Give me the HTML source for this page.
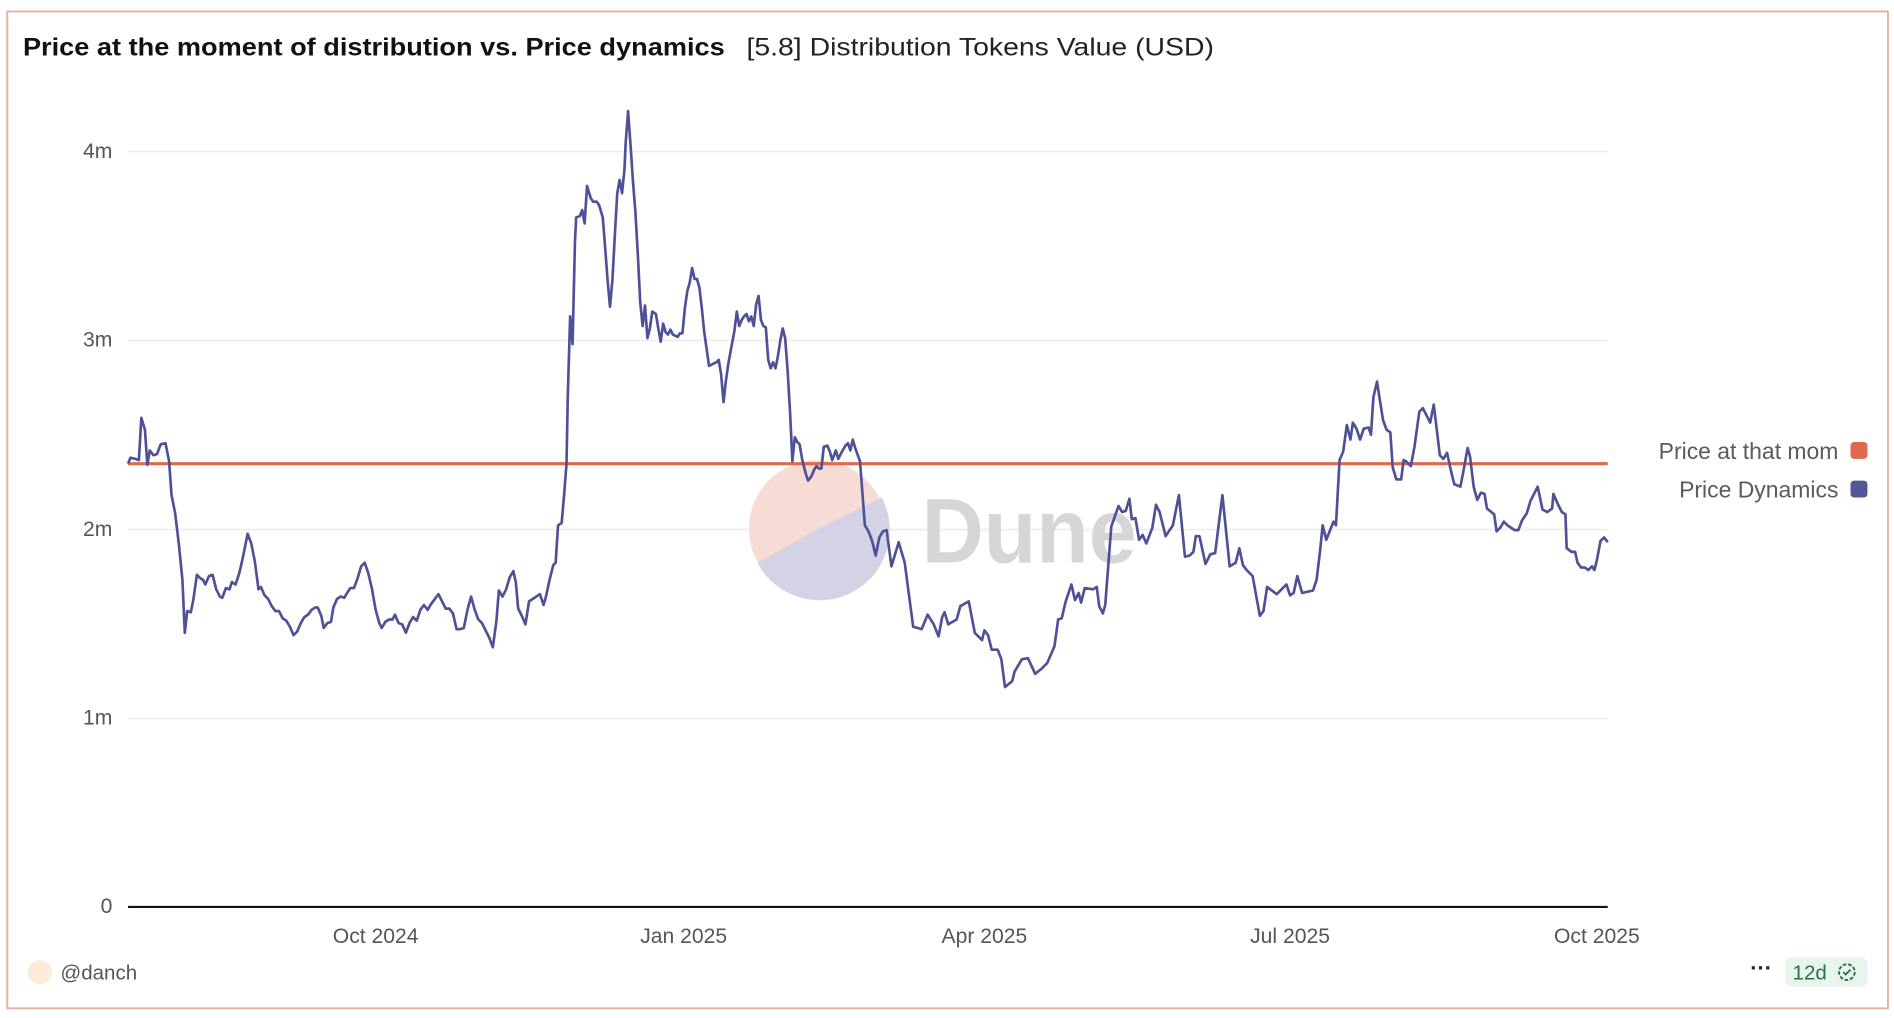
<!DOCTYPE html>
<html><head><meta charset="utf-8"><style>
html,body{margin:0;padding:0;background:#fff;}
svg{display:block;}
text{font-family:"Liberation Sans",sans-serif;}
</style></head><body>
<svg width="1894" height="1018" viewBox="0 0 1568 843" preserveAspectRatio="none" xmlns="http://www.w3.org/2000/svg">
<rect x="0" y="0" width="1568" height="843" fill="#fff"/>
<rect x="6" y="9.5" width="1557" height="825.5" fill="none" stroke="#ebb0a2" stroke-width="1.6"/>
<text x="19" y="46" font-size="20.5" fill="#111" font-weight="bold" textLength="581" lengthAdjust="spacingAndGlyphs">Price at the moment of distribution vs. Price dynamics</text>
<text x="618" y="46" font-size="20.5" fill="#222" textLength="387" lengthAdjust="spacingAndGlyphs">[5.8] Distribution Tokens Value (USD)</text>
<g stroke="#ececec" stroke-width="1.3">
<line x1="106" y1="125.5" x2="1331" y2="125.5"/>
<line x1="106" y1="282" x2="1331" y2="282"/>
<line x1="106" y1="438.5" x2="1331" y2="438.5"/>
<line x1="106" y1="595" x2="1331" y2="595"/>
</g>
<g font-size="17.5" fill="#555" text-anchor="end">
<text x="93" y="131">4m</text><text x="93" y="287">3m</text><text x="93" y="444">2m</text><text x="93" y="600">1m</text><text x="93" y="756">0</text>
</g>
<g font-size="17.5" fill="#555" text-anchor="middle">
<text x="311" y="781">Oct 2024</text><text x="566" y="781">Jan 2025</text><text x="815" y="781">Apr 2025</text><text x="1068" y="781">Jul 2025</text><text x="1322" y="781">Oct 2025</text>
</g>
<circle cx="677" cy="438" r="57" fill="#f6dcd4"/>
<path d="M677 438 L730 412 A57 57 0 0 1 627 466 Z" fill="#d4d3e6"/>
<text x="763" y="466" font-size="76" font-weight="bold" fill="#d6d6d6" textLength="178" lengthAdjust="spacingAndGlyphs">Dune</text>
<line x1="106" y1="384" x2="1331" y2="384" stroke="#e0694b" stroke-width="2.6"/>
<polyline fill="none" stroke="#4f5196" stroke-width="2.2" stroke-linejoin="round" points="106,384 108,379 112,380 115,381 117,346 120,356 122,385 124,373 127,377 130,376 133,368 137,367 140,382 142,410 145,425 148,450 151,480 153,524 155,506 158,507 160,497 163,476 166,479 168,480 170,484 173,477 176,476 179,488 182,494 184,495 187,487 190,488 192,482 195,484 198,475 201,462 205,442 208,450 211,465 214,488 216,486 219,493 222,496 225,502 228,506 231,506 234,512 237,514 240,519 243,526 246,523 249,516 252,511 255,509 258,505 261,503 263,503 266,510 268,520 271,516 274,515 276,503 279,496 282,494 285,495 288,490 290,487 293,487 296,479 299,469 302,466 305,475 308,488 311,505 314,516 316,520 319,515 322,513 325,513 327,509 330,516 333,517 336,524 339,516 342,511 345,514 348,505 351,501 354,505 357,500 360,496 363,492 366,498 369,504 372,504 375,508 378,521 381,521 384,520 387,505 390,494 393,505 396,513 399,516 402,522 405,528 408,536 411,514 413,489 416,494 419,488 422,478 425,473 427,482 429,504 432,510 435,517 438,498 441,496 444,494 447,492 450,501 452,494 455,480 458,468 460,466 462,435 465,433 467,410 469,384 470,330 472,262 474,285 476,200 477,180 480,179 482,174 484,185 486,154 489,164 491,167 494,167 496,170 499,180 501,205 503,232 505,254 507,232 509,195 511,160 513,149 515,160 517,140 518,118 520,92 522,120 524,150 526,175 528,210 530,250 532,270 534,253 536,280 538,272 540,258 543,260 545,272 547,283 549,268 551,275 553,277 555,273 557,277 559,278 561,279 563,276 565,276 567,255 569,241 571,234 573,222 575,231 577,231 579,238 581,255 583,275 585,289 587,303 589,302 591,301 593,300 595,298 597,310 599,333 601,315 603,301 605,290 608,274 610,258 612,270 614,265 616,262 618,260 620,266 622,262 624,270 626,252 628,245 630,265 632,270 634,271 636,298 638,305 640,300 642,305 644,295 646,282 648,272 650,280 652,306 654,340 656,382 658,362 660,366 662,368 664,380 667,392 669,398 672,394 674,389 676,386 678,388 680,388 682,370 685,369 687,374 689,381 692,373 694,380 697,374 700,369 702,367 704,373 706,364 708,371 712,382 716,435 719,440 722,448 725,460 728,445 731,440 734,439 738,469 744,449 749,466 756,519 763,521 768,509 773,517 777,527 780,511 782,507 785,517 792,513 795,502 802,498 807,524 813,530 815,522 818,526 821,538 826,538 829,546 832,569 838,564 840,556 846,546 851,545 857,558 862,554 867,549 873,535 876,513 879,512 882,499 887,484 890,497 893,491 895,499 898,487 905,488 908,486 910,502 913,508 915,501 920,436 926,419 929,424 932,423 935,413 937,430 940,429 943,447 946,443 949,450 954,437 957,418 960,424 965,444 971,435 976,410 981,461 985,460 988,457 990,444 993,444 998,467 1002,459 1006,458 1012,410 1018,469 1023,466 1026,454 1029,468 1032,472 1037,477 1043,510 1046,506 1049,486 1057,492 1065,484 1068,493 1071,491 1074,477 1078,491 1087,489 1090,480 1093,455 1095,435 1098,447 1104,432 1106,435 1109,381 1112,374 1115,352 1118,364 1120,350 1123,355 1126,364 1129,355 1133,354 1135,360 1137,329 1140,316 1142,329 1145,348 1148,356 1151,358 1153,387 1156,397 1160,397 1162,381 1164,382 1168,386 1171,370 1175,341 1178,338 1184,350 1187,335 1192,377 1195,380 1198,375 1201,389 1204,401 1209,403 1211,393 1215,371 1217,378 1220,403 1223,414 1226,408 1229,409 1231,421 1237,426 1239,440 1242,437 1245,432 1248,435 1251,437 1254,439 1257,439 1260,431 1264,425 1267,415 1273,403 1277,422 1281,424 1285,421 1286,409 1290,418 1293,424 1296,426 1297,454 1301,457 1304,457 1306,466 1309,470 1312,470 1315,472 1318,469 1320,472 1322,464 1325,448 1328,445 1331,449"/>
<line x1="106" y1="751" x2="1331" y2="751" stroke="#111" stroke-width="1.8"/>
<g font-size="19" fill="#5a5a5f" text-anchor="end">
<text x="1522" y="380">Price at that mom</text>
<text x="1522" y="412">Price Dynamics</text>
</g>
<rect x="1532" y="366" width="14" height="14" rx="3" fill="#e0694b"/>
<rect x="1532" y="398" width="14" height="14" rx="3" fill="#55569a"/>
<circle cx="33" cy="805" r="10" fill="#fcebd6"/>
<text x="50" y="811" font-size="17" fill="#555">@danch</text>
<text x="1458" y="808" font-size="18" fill="#222" text-anchor="middle" font-weight="bold">···</text>
<rect x="1478" y="793" width="68" height="24" rx="5" fill="#e8f5ec"/>
<text x="1484" y="811" font-size="17" fill="#2d6e45">12d</text>
<circle cx="1529" cy="805" r="6.5" fill="none" stroke="#2d6e45" stroke-width="1.6" stroke-dasharray="3 1.5"/>
<path d="M1526 805 l2 2 l4 -4" fill="none" stroke="#2d6e45" stroke-width="1.5"/>
</svg>
</body></html>
